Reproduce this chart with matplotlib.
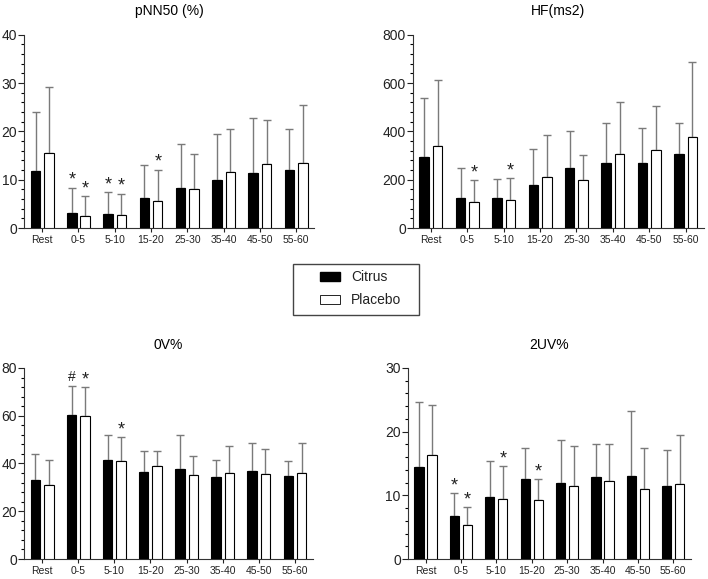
import matplotlib
matplotlib.use('Agg')
import matplotlib.pyplot as plt
import numpy as np
from matplotlib.ticker import MultipleLocator
from matplotlib.patches import Patch, Rectangle

plt.rcParams['font.family'] = ['Liberation Sans', 'DejaVu Sans']

cats = ['Rest', '0-5', '5-10', '15-20', '25-30', '35-40', '45-50', '55-60']

# pNN50 (%)
pnn_c = [11.9, 3.2, 2.9, 6.2, 8.4, 9.9, 11.4, 12.1]
pnn_c_top = [24.1, 8.4, 7.4, 13.0, 17.3, 19.5, 22.8, 20.6]
pnn_p = [15.6, 2.5, 2.8, 5.6, 8.1, 11.6, 13.2, 13.4]
pnn_p_top = [29.1, 6.6, 7.1, 12.1, 15.3, 20.6, 22.4, 25.5]
pnn_c_mark = ['', '*', '*', '', '', '', '', '']
pnn_p_mark = ['', '*', '*', '*', '', '', '', '']

# HF(ms2)
hf_c = [295, 125, 123, 180, 250, 268, 270, 308]
hf_c_top = [537, 250, 205, 328, 402, 435, 413, 433]
hf_p = [338, 108, 118, 213, 198, 305, 323, 375]
hf_p_top = [613, 198, 207, 385, 302, 522, 507, 688]
hf_c_mark = ['', '', '', '', '', '', '', '']
hf_p_mark = ['', '*', '*', '', '', '', '', '']

# 0V%
ov_c = [33.2, 60.5, 41.3, 36.5, 37.8, 34.3, 36.7, 34.6]
ov_c_top = [44.0, 72.5, 51.8, 45.2, 52.1, 41.3, 48.6, 41.0]
ov_p = [31.0, 59.7, 41.2, 39.0, 35.2, 36.0, 35.6, 36.0]
ov_p_top = [41.5, 72.0, 51.0, 45.4, 43.2, 47.3, 46.2, 48.5]
ov_c_mark = ['', '#', '', '', '', '', '', '']
ov_p_mark = ['', '*', '*', '', '', '', '', '']

# 2UV%
uv_c = [14.5, 6.8, 9.7, 12.6, 11.9, 12.9, 13.0, 11.4]
uv_c_top = [24.7, 10.3, 15.4, 17.5, 18.7, 18.0, 23.2, 17.1]
uv_p = [16.4, 5.3, 9.4, 9.2, 11.5, 12.3, 11.0, 11.8]
uv_p_top = [24.2, 8.1, 14.6, 12.5, 17.8, 18.1, 17.5, 19.4]
uv_c_mark = ['', '*', '', '', '', '', '', '']
uv_p_mark = ['', '*', '*', '*', '', '', '', '']

fig = plt.figure(figsize=(7.08, 5.79), dpi=100)


def panel(rect, title, c, ct, p, pt, cm, pm, ymax, major, minor):
    ax = fig.add_axes(rect)
    x = np.arange(len(cats))
    w = 0.26
    off = 0.185
    ax.bar(x - off, c, w, color='black', edgecolor='black', linewidth=0.8, zorder=3)
    ax.bar(x + off, p, w, color='white', edgecolor='black', linewidth=0.8, zorder=3)
    c = np.array(c); p = np.array(p)
    ax.errorbar(x - off, c, yerr=[np.zeros(len(c)), np.array(ct) - c], fmt='none',
                ecolor='#7a7a7a', elinewidth=1, capsize=3, capthick=1, zorder=2)
    ax.errorbar(x + off, p, yerr=[np.zeros(len(p)), np.array(pt) - p], fmt='none',
                ecolor='#7a7a7a', elinewidth=1, capsize=3, capthick=1, zorder=2)
    for i in range(len(cats)):
        for xx, top, m in ((x[i] - off, ct[i], cm[i]), (x[i] + off, pt[i], pm[i])):
            if m:
                fs = 13 if m == '*' else 10
                dy = -0.005 * ymax if m == '*' else 0.01 * ymax
                ax.text(xx, top + dy, m, ha='center', va='bottom', fontsize=fs,
                        color='#222222')
    ax.set_xlim(-0.5, 7.5)
    ax.set_ylim(0, ymax)
    ax.set_xticks(x)
    ax.set_xticklabels(cats, fontsize=7.5)
    ax.yaxis.set_major_locator(MultipleLocator(major))
    ax.yaxis.set_minor_locator(MultipleLocator(minor))
    ax.tick_params(axis='y', labelsize=10, length=4, width=0.8, pad=1, colors='#222222')
    ax.tick_params(axis='y', which='minor', length=2.5, width=0.8)
    ax.tick_params(axis='x', length=3, width=0.8, pad=2, colors='#222222')
    for s in ['top', 'right']:
        ax.spines[s].set_visible(False)
    for s in ['left', 'bottom']:
        ax.spines[s].set_linewidth(0.8)
        ax.spines[s].set_color('#333333')
    ax.set_title(title, fontsize=10, pad=14)
    return ax


panel([0.034, 0.606, 0.41, 0.334], 'pNN50 (%)', pnn_c, pnn_c_top, pnn_p, pnn_p_top,
      pnn_c_mark, pnn_p_mark, 40, 10, 2)
panel([0.583, 0.606, 0.411, 0.334], 'HF(ms2)', hf_c, hf_c_top, hf_p, hf_p_top,
      hf_c_mark, hf_p_mark, 800, 200, 40)
panel([0.034, 0.0345, 0.408, 0.33], '0V%', ov_c, ov_c_top, ov_p, ov_p_top,
      ov_c_mark, ov_p_mark, 80, 20, 4)
panel([0.576, 0.0345, 0.4, 0.33], '2UV%', uv_c, uv_c_top, uv_p, uv_p_top,
      uv_c_mark, uv_p_mark, 30, 10, 2)

# legend box drawn by hand so its size matches
fig.patches.append(Rectangle((293 / 708, 1 - 315 / 579), 126 / 708, 51 / 579,
                             transform=fig.transFigure, facecolor='white',
                             edgecolor='#444444', linewidth=1.0))
handles = [Patch(facecolor='black', edgecolor='black', label='Citrus'),
           Patch(facecolor='white', edgecolor='black', linewidth=0.6, label='Placebo')]
leg = fig.legend(handles=handles, loc='center', bbox_to_anchor=(0.509, 0.501),
                 fontsize=10, frameon=False, borderpad=0, handlelength=1.5,
                 handleheight=0.55, borderaxespad=0, labelspacing=0.65,
                 handletextpad=0.75)
for t in leg.get_texts():
    t.set_color('#222222')

fig.savefig('out.png', dpi=100)
